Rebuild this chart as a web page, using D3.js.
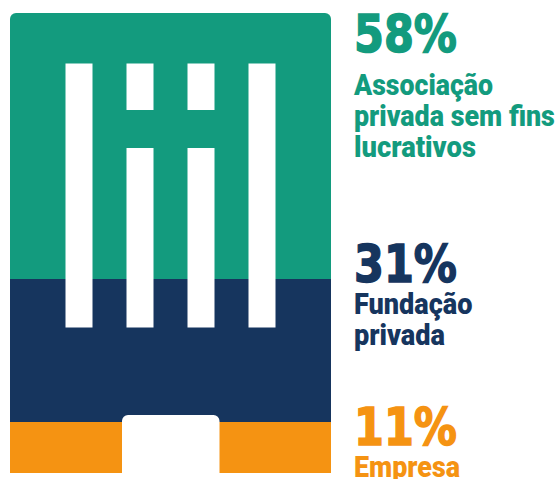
<!DOCTYPE html>
<html>
<head>
<meta charset="utf-8">
<script src="https://cdn.jsdelivr.net/npm/d3@7"></script>
<style>
  html, body { margin: 0; padding: 0; background: #fff; }
  svg { display: block; }
</style>
</head>
<body>
<div id="chart"></div>
<script>
const categories = ["Associação privada sem fins lucrativos", "Fundação privada", "Empresa"];
const values = [58, 31, 11];
const valueLabels = ["58%", "31%", "11%"];
const labelLines = [
    ["Associação", "privada sem fins", "lucrativos"],
    ["Fundação", "privada"],
    ["Empresa"]
];
const colors = ["#139b7e", "#16355e", "#f59312"];

const Width = 558, Height = 479;
const building = { Left: 10, Right: 331, Top: 13, Bottom: 473, Radius: 6 };

const svg = d3.select("#chart").append("svg")
    .attr("width", Width)
    .attr("height", Height);

// Stack the shares from top to bottom of the building
const yScale = d3.scaleLinear().domain([0, 100]).range([building.Top, building.Bottom]);
const ends = d3.cumsum(values);
const starts = ends.map((d, i) => d - values[i]);

const clipPath = d3.path();
clipPath.moveTo(building.Left, building.Bottom);
clipPath.lineTo(building.Left, building.Top + building.Radius);
clipPath.arcTo(building.Left, building.Top, building.Left + building.Radius, building.Top, building.Radius);
clipPath.lineTo(building.Right - building.Radius, building.Top);
clipPath.arcTo(building.Right, building.Top, building.Right, building.Top + building.Radius, building.Radius);
clipPath.lineTo(building.Right, building.Bottom);
clipPath.closePath();
svg.append("clipPath").attr("id", "building").append("path").attr("d", clipPath.toString());

svg.append("g")
    .attr("clip-path", "url(#building)")
    .selectAll("rect")
    .data(values)
    .join("rect")
    .attr("x", building.Left)
    .attr("width", building.Right - building.Left)
    .attr("y", (d, i) => Math.floor(yScale(starts[i])))
    .attr("height", (d, i) => Math.floor(yScale(ends[i])) - Math.floor(yScale(starts[i])))
    .attr("fill", (d, i) => colors[i]);

// Windows and door of the building, white cut-outs
const windowLefts = [65.5, 126.5, 187.5, 248.5];
const windowW = 27;
const windows = svg.append("g").attr("fill", "#fff");
windowLefts.forEach((x, i) => {
    const spans = (i === 0 || i === 3) ? [[63.5, 327.5]] : [[63.5, 110], [148, 327.5]];
    spans.forEach(s => {
        windows.append("rect")
            .attr("x", x).attr("y", s[0])
            .attr("width", windowW).attr("height", s[1] - s[0]);
    });
});
windows.append("path")
    .attr("d", "M122,473V421a6,6 0 0 1 6,-6H213.5a6,6 0 0 1 6,6V473Z");

// Text column
const textX = 354;
const valueBase = [51.5, 281.5, 444.5];
const valueWidth = 103;
const lineBase = [[95, 126, 157], [314, 345], [477]];
const lineWidth = [[139, 201, 122], [118.5, 91], [106]];

// squeeze a text horizontally to the width
function fitWidth(sel, widthOf, baseOf) {
    sel.each(function(d, j) {
        const natural = this.getComputedTextLength();
        d3.select(this).attr("transform",
            `translate(${textX},${baseOf(j)}) scale(${widthOf(j) / natural},1)`);
    });
}

svg.selectAll("text.value")
    .data(valueLabels)
    .join("text")
    .attr("class", "value")
    .attr("font-family", "'DejaVu Sans', sans-serif")
    .attr("font-weight", 700)
    .attr("font-size", 52)
    .attr("fill", (d, i) => colors[i])
    .attr("stroke", (d, i) => colors[i])
    .attr("stroke-width", 1.6)
    .text(d => d)
    .call(fitWidth, () => valueWidth, i => valueBase[i]);

labelLines.forEach((lines, i) => {
    svg.selectAll(null)
        .data(lines)
        .join("text")
        .attr("font-family", "Roboto, sans-serif")
        .attr("font-weight", 900)
        .attr("font-size", 29)
        .attr("fill", colors[i])
        .text(d => d)
        .call(fitWidth, j => lineWidth[i][j], j => lineBase[i][j]);
});
</script>
</body>
</html>
